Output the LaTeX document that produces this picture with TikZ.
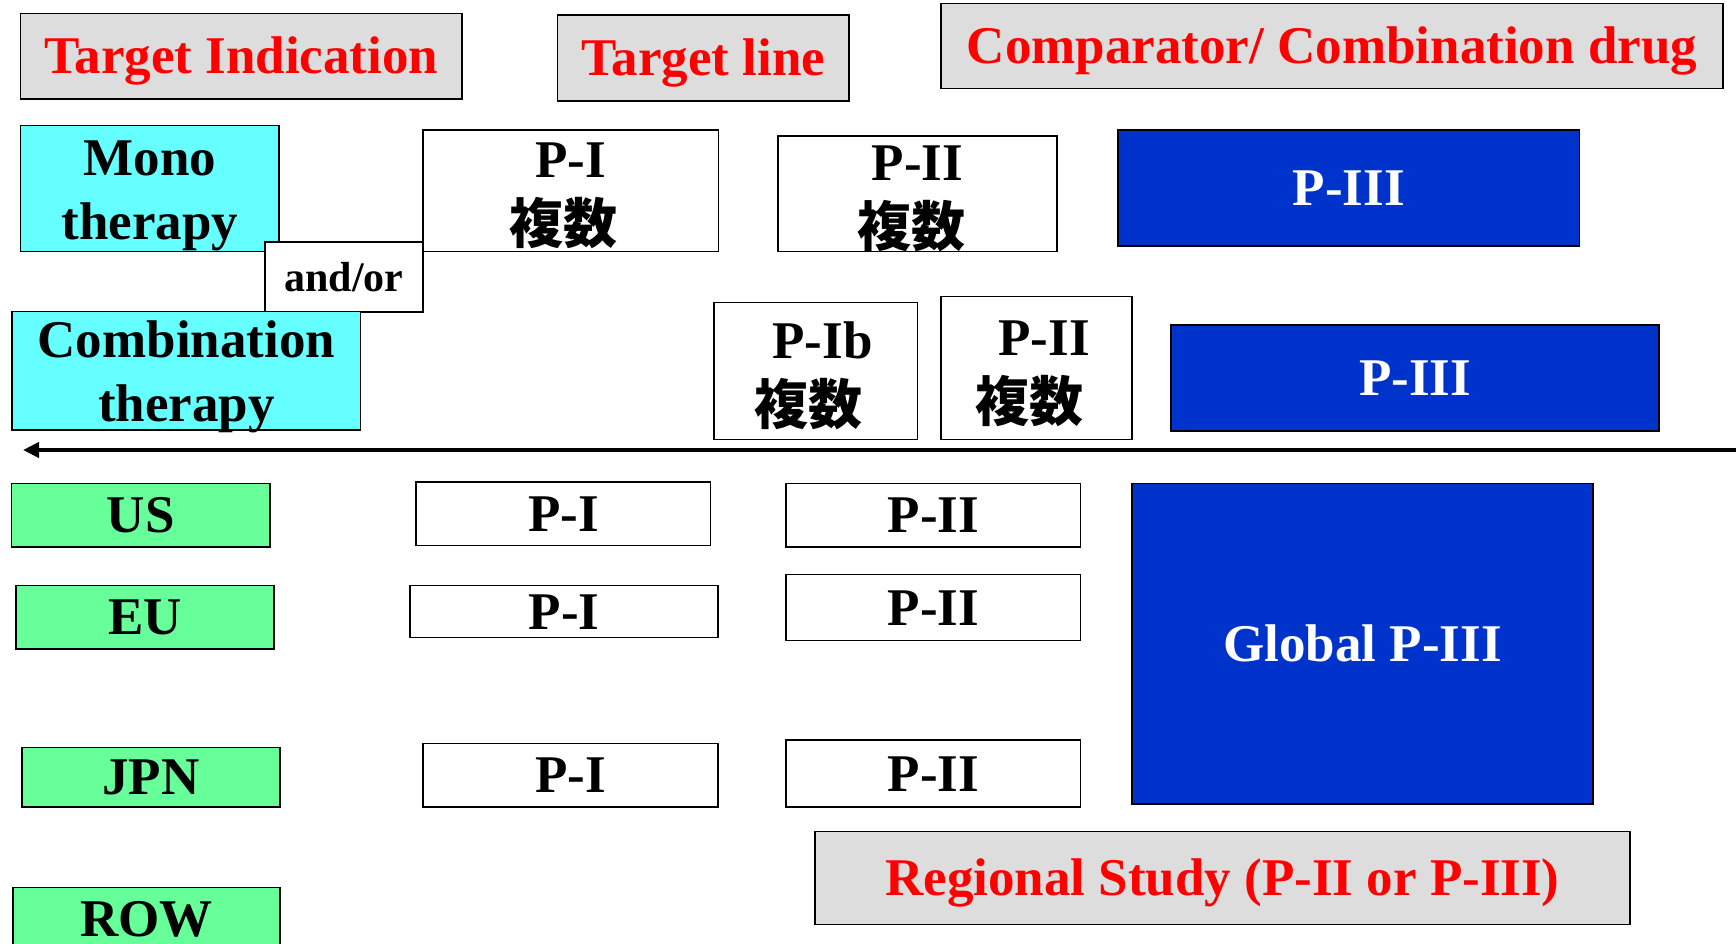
\documentclass[tikz,border=0pt]{standalone}
\usepackage{fontspec}
\setmainfont{Liberation Serif}
\newfontfamily\cjk{Noto Sans CJK JP}
\usetikzlibrary{arrows.meta}
\definecolor{cyanbox}{HTML}{66FFFF}
\definecolor{greenbox}{HTML}{66FF99}
\definecolor{bluebox}{HTML}{0033CC}
\definecolor{graybox}{HTML}{DDDDDD}
\definecolor{redtext}{HTML}{FF0000}
\newcommand\two[2]{\begin{tabular}[t]{@{}c@{}}#1\\#2\end{tabular}}
% two rows, each shifted sideways by half of the given kern
\newcommand\twok[4]{\begin{tabular}[t]{@{}c@{}}\makebox[0pt]{\kern#1bp #2}\\\makebox[0pt]{\kern#3bp #4}\end{tabular}}
\newcommand\fk{{\cjk\fontsize{54bp}{66bp}\selectfont 複数}}
\begin{document}
\begin{tikzpicture}[x=1bp,y=-1bp,
  box/.style={draw=black, line width=1.5bp, inner sep=0pt, fill=white,
    font=\bfseries\fontsize{53bp}{64bp}\selectfont, text height=35bp, text depth=0bp},
  wh/.style 2 args={minimum width=#1bp, minimum height=#2bp},
  title/.style={box, fill=graybox, text=redtext},
  side/.style={box, fill=cyanbox},
  region/.style={box, fill=greenbox},
  phase/.style={box, fill=white},
  big/.style={box, fill=bluebox, text=white},
  multi/.style={text height=0bp, text depth=26bp},
  cjkrows/.style={font=\bfseries\fontsize{53bp}{66bp}\selectfont},
  timeline/.style={line width=4.5bp, -{Triangle[length=16bp,width=15bp]}}]
\path[use as bounding box, fill=white] (0,0) rectangle (1736,943);

% header row
\node[title, wh={441.5}{85.7}] (ti) at (241.25,56.15) {Target Indication};
\node[title, wh={291.4}{86}] (tl) at (703.3,58) {Target line};
\node[title, wh={782}{85}] (cmp) at (1332,45.8) {Comparator/ Combination drug};

% target indication
\node[side, multi, wh={258.5}{126}] (mono) at (149.75,188.7) {\two{Mono}{therapy}};
\node[phase, wh={158}{70}, font=\bfseries\fontsize{42bp}{50bp}\selectfont, text height=28bp] (andor) at (344,277) {and/or};
\node[side, multi, wh={348.4}{118.3}] (comb) at (186.4,370.85) {\two{Combination}{therapy}};

% mono therapy line
\node[phase, multi, cjkrows, wh={295.5}{121.7}] (p1m) at (570.75,190.85) {\twok{0}{P-I}{-15.5}{\fk}};
\node[phase, multi, cjkrows, wh={279.2}{115.7}] (p2m) at (917.4,193.85) {\twok{0}{P-II}{-12.4}{\fk}};
\node[big, wh={461.6}{116}] (p3m) at (1348.8,188) {P-III};

% combination line
\node[phase, multi, cjkrows, wh={203.5}{136.6}] (p1b) at (815.75,371) {\twok{13.7}{P-Ib}{-15}{\fk}};
\node[phase, multi, cjkrows, wh={191}{142.6}] (p2c) at (1036.5,368) {\twok{15}{P-II}{-14.8}{\fk}};
\node[big, wh={488}{106}] (p3c) at (1415,378) {P-III};

% timeline arrow
\coordinate (aR) at (1740,450);
\coordinate (aL) at (23,450);
\draw[timeline] (aR) -- (aL);

% regions
\node[region, wh={258.3}{63.3}] (us) at (140.85,515.35) {US};
\node[phase, wh={294.7}{63.3}] (p1us) at (563.35,513.65) {P-I};
\node[phase, wh={294.7}{63.3}] (p2us) at (933.35,515.35) {P-II};

\node[region, wh={258}{63.3}] (eu) at (145,617.35) {EU};
\node[phase, wh={308}{52}] (p1eu) at (564,611.7) {P-I};
\node[phase, wh={294.7}{66.4}] (p2eu) at (933.35,607.5) {P-II};

\node[region, wh={258}{59.3}] (jpn) at (151,777.35) {JPN};
\node[phase, wh={295}{63.3}] (p1jp) at (570.5,775.35) {P-I};
\node[phase, wh={294.7}{67}] (p2jp) at (933.35,773.5) {P-II};

\node[big, wh={461}{320.3}] (glob) at (1362.5,643.85) {Global P-III};
\node[title, wh={815}{93}] (reg) at (1222.5,878.2) {Regional Study (P-II or P-III)};
\node[region, wh={267.2}{62.3}] (row) at (146.4,918.85) {ROW};
\end{tikzpicture}
\end{document}
